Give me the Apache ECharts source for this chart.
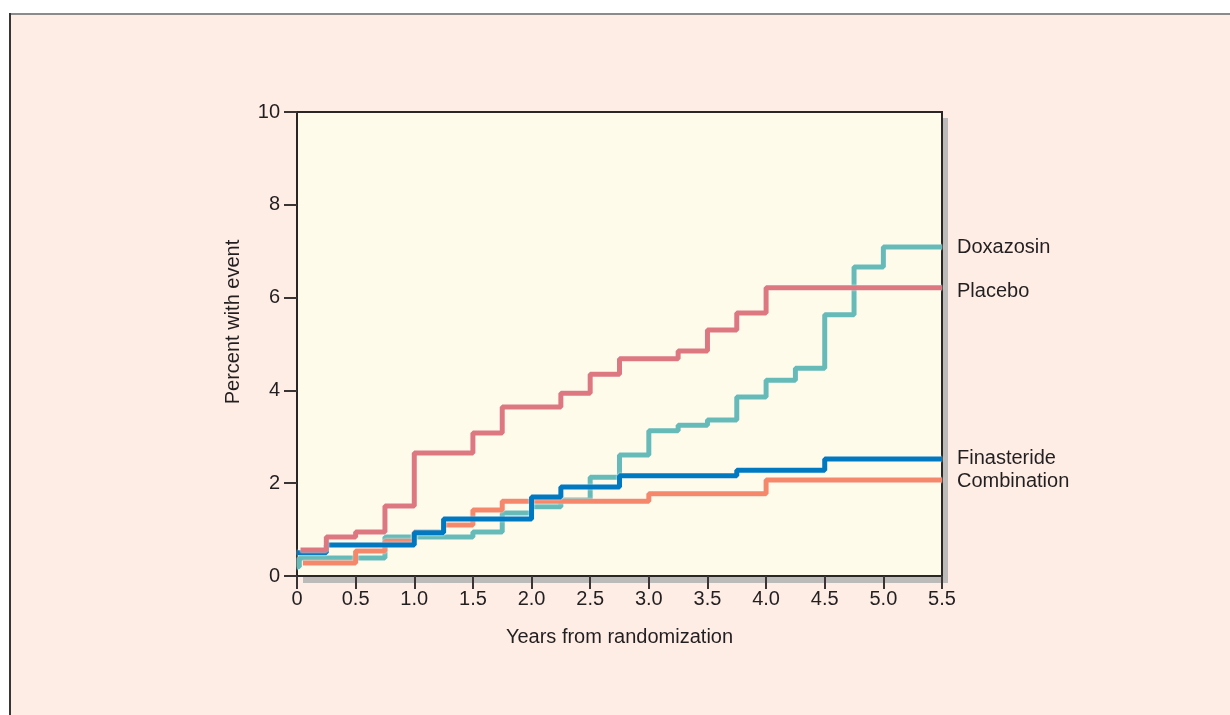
<!DOCTYPE html>
<html>
<head>
<meta charset="utf-8">
<script src="https://cdn.jsdelivr.net/npm/echarts@6/dist/echarts.min.js"></script>
<style>
  html, body { margin: 0; padding: 0; background: #fff; }
  #chart { width: 1230px; height: 715px; }
</style>
</head>
<body>
<div id="chart"></div>
<script>
// tick labels
const xTickLabels = ['0', '0.5', '1.0', '1.5', '2.0', '2.5', '3.0', '3.5', '4.0', '4.5', '5.0', '5.5'];
const yTickLabels = ['0', '2', '4', '6', '8', '10'];

// step points: time in years, percent with event from that time on
const doxazosinT = [0, 0.02, 0.75, 1.5, 1.75, 2.0, 2.25, 2.5, 2.75, 3.0, 3.25, 3.5, 3.75, 4.0, 4.25, 4.5, 4.75, 5.0, 5.5];
const doxazosinV = [0.2, 0.39, 0.84, 0.95, 1.36, 1.49, 1.64, 2.13, 2.61, 3.13, 3.25, 3.36, 3.86, 4.22, 4.48, 5.63, 6.66, 7.09, 7.09];

const placeboT = [0.03, 0.25, 0.5, 0.75, 1.0, 1.5, 1.75, 2.25, 2.5, 2.75, 3.25, 3.5, 3.75, 4.0, 5.5];
const placeboV = [0.56, 0.84, 0.95, 1.51, 2.65, 3.08, 3.64, 3.94, 4.35, 4.68, 4.85, 5.30, 5.67, 6.21, 6.21];

const finasterideT = [0, 0.25, 1.0, 1.25, 2.0, 2.25, 2.75, 3.75, 4.5, 5.5];
const finasterideV = [0.50, 0.67, 0.93, 1.23, 1.70, 1.92, 2.16, 2.28, 2.52, 2.52];

const combinationT = [0.05, 0.5, 0.75, 1.0, 1.25, 1.5, 1.75, 3.0, 4.0, 5.5];
const combinationV = [0.28, 0.54, 0.75, 0.95, 1.10, 1.42, 1.61, 1.77, 2.07, 2.07];

const font = "'Liberation Sans', Arial, sans-serif";
const textColor = '#231f20';
const fontSize = 20;

const pairs = (t, v) => t.map((x, i) => [x, v[i]]);

function stepSeries(name, t, v, color, labelOffset) {
  return {
    name,
    type: 'line',
    step: 'end',
    data: pairs(t, v),
    symbol: 'none',
    lineStyle: {
      color,
      width: 5,
      shadowColor: 'rgba(255,255,255,0.9)',
      shadowBlur: 2
    },
    endLabel: {
      show: true,
      formatter: '{a}',
      distance: 15,
      offset: labelOffset,
      color: textColor,
      fontFamily: font,
      fontSize
    },
    animation: false
  };
}

const myChart = echarts.init(document.getElementById('chart'));
const option = {
  backgroundColor: '#fff',
  animation: false,
  graphic: [
    {
      type: 'rect', z: -10, silent: true,
      shape: { x: 9, y: 13, width: 1221, height: 702 },
      style: { fill: '#fdede5' }
    },
    {
      type: 'line', z: -9, silent: true,
      shape: { x1: 9, y1: 14, x2: 1230, y2: 14 },
      style: { stroke: '#8c8a8a', lineWidth: 2 }
    },
    {
      type: 'line', z: -9, silent: true,
      shape: { x1: 10, y1: 13, x2: 10, y2: 715 },
      style: { stroke: '#3a3434', lineWidth: 2 }
    },
    {
      // drop shadow of the plot frame
      type: 'rect', z: -8, silent: true,
      shape: { x: 303, y: 118, width: 645, height: 465 },
      style: { fill: '#bdbaba' }
    },
    {
      type: 'text', silent: true,
      x: 233, y: 322, rotation: Math.PI / 2,
      style: {
        text: 'Percent with event',
        fill: textColor,
        font: fontSize + 'px ' + font,
        align: 'center',
        verticalAlign: 'middle'
      }
    }
  ],
  grid: {
    left: 297,
    top: 112,
    right: 288,
    bottom: 139,
    show: true,
    backgroundColor: '#fefbea',
    borderColor: '#2b2626',
    borderWidth: 2
  },
  xAxis: {
    type: 'value',
    min: 0,
    max: 5.5,
    interval: 0.5,
    name: 'Years from randomization',
    nameLocation: 'middle',
    nameGap: 51,
    nameTextStyle: { color: textColor, fontFamily: font, fontSize },
    axisLine: { lineStyle: { color: '#2b2626', width: 2 } },
    axisTick: { show: true, inside: false, length: 13, lineStyle: { color: '#3a3434', width: 2 } },
    axisLabel: {
      margin: 13,
      color: textColor,
      fontFamily: font,
      fontSize,
      formatter: v => xTickLabels[Math.round(v / 0.5)]
    },
    splitLine: { show: false }
  },
  yAxis: {
    type: 'value',
    min: 0,
    max: 10,
    interval: 2,
    axisLine: { show: true, lineStyle: { color: '#2b2626', width: 2 } },
    axisTick: { show: true, inside: false, length: 13, lineStyle: { color: '#3a3434', width: 2 } },
    axisLabel: {
      margin: 17,
      color: textColor,
      fontFamily: font,
      fontSize,
      formatter: v => yTickLabels[Math.round(v / 2)]
    },
    splitLine: { show: false }
  },
  series: [
    stepSeries('Doxazosin', doxazosinT, doxazosinV, '#66bbb8', [0, 0]),
    stepSeries('Combination', combinationT, combinationV, '#f5876a', [0, 2]),
    stepSeries('Finasteride', finasterideT, finasterideV, '#0079c1', [0, -1]),
    stepSeries('Placebo', placeboT, placeboV, '#dd7780', [0, 4])
  ]
};
option && myChart.setOption(option);
</script>
</body>
</html>
